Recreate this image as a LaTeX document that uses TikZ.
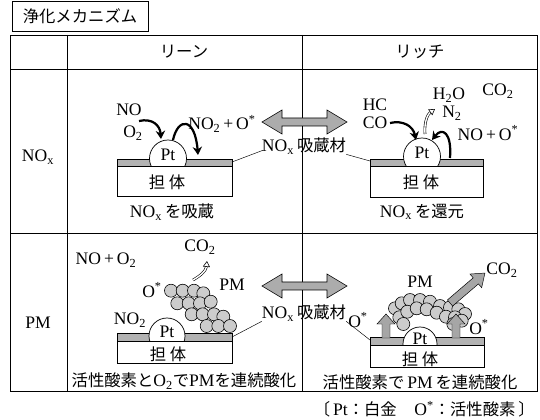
\documentclass[tikz,border=0pt]{standalone}
\usepackage{fontspec}
\setmainfont{Liberation Serif}
\newfontfamily\jp[Scale=0.93]{Noto Sans CJK JP}
\usetikzlibrary{arrows.meta}

\tikzset{
    lbl/.style={inner sep=0pt},
    band/.style={draw, line width=0.4pt, fill=gray!60},
    carrier/.style={draw, line width=0.6pt, fill=white},
    dome/.style={draw, line width=0.6pt, fill=white},
    flow/.style={line width=1.9pt, -{Stealth[length=7pt,width=8pt]}},
    hollow/.style={double=white, double distance=1.2pt, line width=0.5pt, -{Triangle[open,length=5pt,width=6pt,fill=white]}},
    blockarr/.style={draw, line width=0.4pt, fill=gray!70},
    swap/.style={draw, line width=0.5pt, fill=gray!65},
    pmball/.style={draw, line width=0.5pt, fill=gray!40},
    leader/.style={line width=0.4pt},
    grid/.style={line width=0.6pt}
}

\begin{document}
\begin{tikzpicture}[x=0.3mm, y=-0.3mm, font=\fontsize{15}{17}\selectfont]
    \useasboundingbox (0,0) rectangle (540,420);

    % title
    \draw[grid] (12,1) rectangle (148,31);
    \node[lbl] (title) at (80,16) {\jp 浄化メカニズム};

    % table frame
    \draw[grid] (10,35) rectangle (537,391);
    \draw[grid] (10,69) -- (537,69);
    \draw[grid] (10,233) -- (537,233);
    \draw[grid] (67,35) -- (67,391);
    \draw[grid] (302,35) -- (302,391);

    \node[lbl] (lean) at (184,52) {\jp リーン};
    \node[lbl] (rich) at (420,52) {\jp リッチ};
    \node[lbl] (rownox) at (38,157) {NO\textsubscript{x}};
    \node[lbl] (rowpm) at (38,323) {PM};

    % switching arrows
    \foreach \y in {122,286} {
        \draw[swap] (262,\y) -- (282,\y-12) -- (282,\y-4) -- (327,\y-4) -- (327,\y-12)
            -- (347,\y) -- (327,\y+12) -- (327,\y+4) -- (282,\y+4) -- (282,\y+12) -- cycle;
    }

    % NOx, lean: storage
    \draw[band] (117,159) rectangle (232,166);
    \begin{scope}
        \clip (147,137) rectangle (189,166);
        \draw[dome] (168,158.5) circle (18.5);
    \end{scope}
    \draw[carrier] (117,166) rectangle (232,196);
    \coordinate (bandA) at (232,162);
    \node[lbl] (ptA) at (168,155) {Pt};
    \node[lbl] (carA) at (167,182) {\jp 担\ 体};
    \node[lbl] (capA) at (172,212) {NO\textsubscript{x}\,{\jp を吸蔵}};
    \node[lbl] (noA) at (129,110) {NO};
    \node[lbl] (oA) at (133,133) {O\textsubscript{2}};
    \node[lbl] (no2A) at (222,124) {NO\textsubscript{2}\,+\,O\textsuperscript{*}};
    \draw[flow] (139,121) .. controls (152,118) and (160,125) .. (161,139);
    \draw[flow] (173,140) .. controls (178,117) and (195,117) .. (198,155);

    % NOx, rich: reduction
    \draw[band] (370,159) rectangle (483,166);
    \begin{scope}
        \clip (401,135) rectangle (443,166);
        \draw[dome] (422,156.5) circle (18.5);
    \end{scope}
    \draw[carrier] (370,166) rectangle (483,197);
    \coordinate (bandB) at (370,161);
    \node[lbl] (ptB) at (422,153) {Pt};
    \node[lbl] (carB) at (421,182) {\jp 担\ 体};
    \node[lbl] (capB) at (422,212) {NO\textsubscript{x}\,{\jp を還元}};
    \node[lbl] (hcB) at (375,105) {HC};
    \node[lbl] (coB) at (375,123) {CO};
    \node[lbl] (h2oB) at (449,95) {H\textsubscript{2}O};
    \node[lbl] (n2B) at (452,113) {N\textsubscript{2}};
    \node[lbl] (co2B) at (498,91) {CO\textsubscript{2}};
    \node[lbl] (noB) at (488,133) {NO\,+\,O\textsuperscript{*}};
    \draw[flow] (390,123) .. controls (403,120) and (413,126) .. (416,140);
    \draw[flow] (450,158) .. controls (452,132) and (442,127) .. (432,140);
    \draw[hollow] (425,134) .. controls (424,121) and (428,114) .. (435,109);

    % storage material labels
    \node[lbl] (absA) at (304,146) {NO\textsubscript{x}\,{\jp 吸蔵材}};
    \draw[leader] (absA.south west) ++(1,-4) coordinate (absAl) (absAl) -- (bandA);
    \draw[leader] (absA.south east) -- (bandB);

    % PM, lean: continuous oxidation
    \node[lbl] (noC) at (106,260) {NO\,+\,O\textsubscript{2}};
    \draw[band] (117,333) rectangle (232,341);
    \begin{scope}
        \clip (147,316) rectangle (187,341);
        \draw[dome] (167,336) circle (18);
    \end{scope}
    \draw[carrier] (117,341) rectangle (232,363);
    \coordinate (bandC) at (232,337);
    \node[lbl] (ptC) at (167,332) {Pt};
    \node[lbl] (carC) at (168,354) {\jp 担\ 体};
    \node[lbl] (capC) at (184,381) {{\jp 活性酸素と}O\textsubscript{2}{\jp で}PM{\jp を連続酸化}};
    \foreach \x/\y in {171/290.7, 182.7/290.7, 194/290.7, 203.3/293.3,
                       177.3/303.3, 188.7/303.3, 200/303.3, 210.7/301.7,
                       191.7/314.3, 202.7/314.3, 214/314.3, 223.3/316.7,
                       206.7/326, 218.3/326, 230/326} {
        \draw[pmball] (\x,\y) circle (6.5);
    }
    \node[lbl] (no2C) at (130,320) {NO\textsubscript{2}};
    \node[lbl] (oC) at (152,290) {O\textsuperscript{*}};
    \node[lbl] (pmC) at (232,285) {PM};
    \node[lbl] (co2C) at (200,247) {CO\textsubscript{2}};
    \draw[hollow] (193,280) .. controls (200,276) and (206,271) .. (207,261);

    % PM, rich
    \draw[band] (370,337) rectangle (484,345);
    \begin{scope}
        \clip (401,325) rectangle (439,345);
        \draw[dome] (420,344) circle (17);
    \end{scope}
    \draw[carrier] (370,345) rectangle (484,367);
    \coordinate (bandD) at (370,340);
    \node[lbl] (ptD) at (420,339) {Pt};
    \node[lbl] (carD) at (420,359) {\jp 担\ 体};
    \node[lbl] (capD) at (420,382) {{\jp 活性酸素で}\,PM\,{\jp を連続酸化}};
    \foreach \x/\y in {395/308.3, 401.7/303.3, 410/300, 420/300, 430/301.7,
                       440/306, 450/307.3, 458.3/309.3, 465/314,
                       399.3/317.3, 407.3/311.7, 416.7/308.3, 426.7/309.3,
                       436.7/312.7, 446/316.7, 455/317.3, 461.7/320.7,
                       403.3/324, 453.3/324} {
        \draw[pmball] (\x,\y) circle (6.5);
    }
    % active oxygen rising from the storage layer
    \foreach \x in {386,456} {
        \draw[blockarr] (\x-4,338) -- (\x-4,324) -- (\x-9,324) -- (\x,314)
            -- (\x+9,324) -- (\x+4,324) -- (\x+4,338) -- cycle;
    }
    \begin{scope}[shift={(450,303)}, rotate=40.6]
        \draw[blockarr] (0,-4) -- (34,-4) -- (34,-9) -- (46,0) -- (34,9) -- (34,4) -- (0,4) -- cycle;
    \end{scope}
    \node[lbl] (oD1) at (358,320) {O\textsuperscript{*}};
    \node[lbl] (oD2) at (479,327) {O\textsuperscript{*}};
    \node[lbl] (pmD) at (420,282) {PM};
    \node[lbl] (co2D) at (502,270) {CO\textsubscript{2}};

    \node[lbl] (absB) at (304,313) {NO\textsubscript{x}\,{\jp 吸蔵材}};
    \draw[leader] (absB.south west) -- (bandC);
    \draw[leader] (absB.south east) -- (bandD);

    % legend
    \node[lbl, anchor=east] (legend) at (535,409)
        {{\jp 〔}\,Pt{\jp ：白金}\quad O\textsuperscript{*}{\jp ：活性酸素}\,{\jp 〕}};
\end{tikzpicture}
\end{document}
